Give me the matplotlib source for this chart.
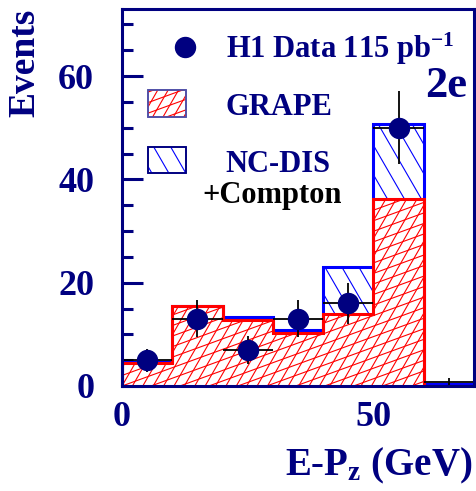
import numpy as np
import matplotlib
matplotlib.use("Agg")
import matplotlib.pyplot as plt
from matplotlib.collections import LineCollection
from matplotlib.patches import Rectangle

# ---- data -------------------------------------------------------------
bin_edges = [0, 10, 20, 30, 40, 50, 60, 70]
grape = [4.5, 15.5, 12.7, 10.3, 13.9, 36.3, 0.0]          # GRAPE prediction
nc_dis = [0.1, 0.0, 0.6, 0.5, 9.1, 14.5, 0.3]             # NC-DIS + Compton
data_counts = [5, 13, 7, 13, 16, 50, 0]                   # H1 data
empty_bin_level = 0.7
x_ticks_major = [0, 50]
y_ticks_major = [0, 20, 40, 60]

NAVY = "#000080"
RED = "#ff0000"
BLUE = "#0000ff"
FONT = "Liberation Serif"

plt.rcParams["font.family"] = FONT
plt.rcParams["font.weight"] = "bold"
plt.rcParams["mathtext.fontset"] = "custom"
plt.rcParams["mathtext.rm"] = f"{FONT}:bold"
plt.rcParams["mathtext.it"] = f"{FONT}:bold"
plt.rcParams["mathtext.bf"] = f"{FONT}:bold"

FIG_W, FIG_H, DPI = 4.76, 4.91, 100
fig = plt.figure(figsize=(FIG_W, FIG_H), dpi=DPI)
ax_rect = [122 / 476, (491 - 386) / 491, 352 / 476, 377 / 491]
ax = fig.add_axes(ax_rect)
AX_W_PX = ax_rect[2] * FIG_W * DPI
AX_H_PX = ax_rect[3] * FIG_H * DPI


def add_hatch(patch, angle, spacing, color, lw, zorder):
    """Draw parallel hatch lines (angle in degrees, spacing in pixels) clipped to a patch."""
    W, H = AX_W_PX, AX_H_PX
    th = np.radians(angle)
    u = np.array([np.cos(th), np.sin(th)])
    n = np.array([-np.sin(th), np.cos(th)])
    corners = np.array([[0, 0], [W, 0], [0, H], [W, H]])
    proj = corners @ n
    offs = np.arange(np.floor(proj.min() / spacing) * spacing, proj.max() + spacing, spacing)
    L = W + H
    segs = []
    for o in offs:
        p = n * o
        a, b = p - u * L, p + u * L
        segs.append([(a[0] / W, a[1] / H), (b[0] / W, b[1] / H)])
    lc = LineCollection(segs, colors=color, linewidths=lw,
                        transform=ax.transAxes, zorder=zorder)
    ax.add_collection(lc, autolim=False)
    lc.set_clip_path(patch)
    return lc


# axis ranges and ticks first, so the limits stay fixed
ax.set_xticks(x_ticks_major)
ax.set_xticks([25], minor=True)
ax.set_yticks(y_ticks_major)
ax.set_yticks(np.arange(0, 75, 5), minor=True)
ax.set_xlim(0, 70)
ax.set_ylim(0, 73)

edges = np.array(bin_edges, dtype=float)
centers = 0.5 * (edges[:-1] + edges[1:])
widths = np.diff(edges)
grape_a = np.array(grape)
total = grape_a + np.array(nc_dis)

# stacked histogram fills
tot_bars = ax.bar(centers, total, width=widths, color="white", edgecolor="none", zorder=1)
for p in tot_bars:
    add_hatch(p, -60, 14.7, BLUE, 0.8, 1.5)
gr_bars = ax.bar(centers, grape_a, width=widths, color="white", edgecolor="none", zorder=2)
for p in gr_bars:
    add_hatch(p, 60, 9.0, RED, 0.8, 2.5)
    add_hatch(p, 20, 9.9, RED, 0.8, 2.5)

# outlines
ax.stairs(total, edges, baseline=0, color=BLUE, lw=2.2, zorder=3)
ax.stairs(grape_a, edges, baseline=0, color=RED, lw=2.2, zorder=4)

# data points with statistical errors
dc = np.array(data_counts, dtype=float)
filled = dc > 0
ax.errorbar(centers[filled], dc[filled], xerr=widths[filled] / 2, yerr=np.sqrt(dc[filled]),
            fmt="o", ms=14.4, mfc=NAVY, mec=NAVY, ecolor="black", elinewidth=1.3,
            capsize=0, zorder=6)
ax.errorbar(centers[~filled], np.full((~filled).sum(), empty_bin_level),
            xerr=widths[~filled] / 2, yerr=0.9, fmt="none", ecolor="black",
            elinewidth=1.3, capsize=0, zorder=6)

ax.set_xlim(0, 70)
ax.set_ylim(0, 73)
ax.tick_params(which="both", direction="in", color=NAVY, width=2.2,
               labelcolor=NAVY, labelsize=26, top=False, right=False)
ax.tick_params(which="major", length=15)
ax.tick_params(which="minor", length=8)
ax.tick_params(axis="y", pad=20)
ax.tick_params(axis="x", pad=11)
for lab in ax.get_xticklabels() + ax.get_yticklabels():
    lab.set_fontweight("bold")
for s in ax.spines.values():
    s.set_color(NAVY)
    s.set_linewidth(2.2)
    s.set_zorder(10)

# axis titles
fig.text(25 / 476, 1 - 9 / 491, "Events", rotation=90, ha="center", va="top",
         fontsize=27, color=NAVY, fontweight="bold")
fig.text(472 / 476, 1 - 475 / 491, r"E-P$_\mathrm{z}$ (GeV)", ha="right", va="baseline",
         fontsize=28, color=NAVY, fontweight="bold")

# legend
ax.plot([0.179], [0.898], "o", ms=14.4, color=NAVY, transform=ax.transAxes, zorder=8)
ax.text(0.295, 0.870, r"H1 Data 115 pb$^{-1}$", transform=ax.transAxes,
        fontsize=22, color=NAVY, ha="left", va="baseline", zorder=8)

g_box = Rectangle((0.073, 0.7135), 0.108, 0.0715, transform=ax.transAxes,
                  fc="white", ec="#5050a8", lw=1.2, zorder=7)
ax.add_patch(g_box)
add_hatch(g_box, 60, 9.0, RED, 0.8, 7.5)
add_hatch(g_box, 20, 9.9, RED, 0.8, 7.5)
ax.add_patch(Rectangle((0.073, 0.7135), 0.108, 0.0715, transform=ax.transAxes,
                       fc="none", ec="#5050a8", lw=1.2, zorder=7.6))
ax.text(0.295, 0.719, "GRAPE", transform=ax.transAxes, fontsize=22, color=NAVY,
        ha="left", va="baseline", zorder=8)

n_box = Rectangle((0.073, 0.565), 0.108, 0.069, transform=ax.transAxes,
                  fc="white", ec=NAVY, lw=1.2, zorder=7)
ax.add_patch(n_box)
add_hatch(n_box, -60, 14.7, BLUE, 0.8, 7.5)
ax.add_patch(Rectangle((0.073, 0.565), 0.108, 0.069, transform=ax.transAxes,
                       fc="none", ec=NAVY, lw=1.2, zorder=7.6))
ax.text(0.295, 0.568, "NC-DIS", transform=ax.transAxes, fontsize=22, color=NAVY,
        ha="left", va="baseline", zorder=8)
ax.text(0.227, 0.485, "+Compton", transform=ax.transAxes, fontsize=22, color="black",
        ha="left", va="baseline", zorder=8)

ax.text(0.980, 0.767, "2e", transform=ax.transAxes, fontsize=32, color=NAVY,
        ha="right", va="baseline", zorder=8)

fig.savefig("out.png", dpi=DPI)
